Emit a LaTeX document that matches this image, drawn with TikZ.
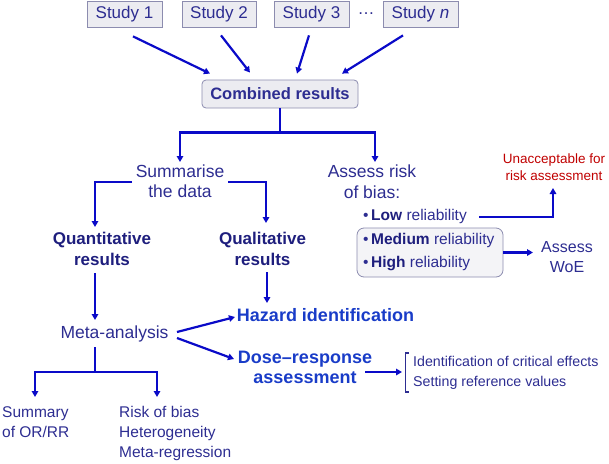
\documentclass[tikz,border=0pt]{standalone}
\usepackage{fontspec}
\setmainfont{Liberation Sans}
\usetikzlibrary{arrows.meta,calc}
\definecolor{navy}{RGB}{45,45,145}
\definecolor{bnavy}{RGB}{30,30,125}
\definecolor{bblue}{RGB}{25,60,200}
\definecolor{arrblue}{RGB}{10,10,200}
\definecolor{boxfill}{RGB}{236,236,241}
\definecolor{boxline}{RGB}{140,140,175}
\definecolor{darkred}{RGB}{192,0,0}
\newcommand{\fsz}[2]{\fontsize{#1}{#2}\selectfont}
\begin{document}
\begin{tikzpicture}[x=1pt,y=-1pt,
 conn/.style={draw=arrblue, line width=2.2pt},
 arr/.style={conn, -{Triangle[length=6pt,width=6.5pt]}},
 studybox/.style={draw=boxline, fill=boxfill, line width=0.8pt, minimum height=26pt, inner sep=0pt, text=navy, font=\fsz{17}{20}},
 txt/.style={inner sep=0pt, text=navy, align=center, font=\fsz{17.5}{20.5}},
 btxt/.style={inner sep=0pt, text=bnavy, align=center, font=\fsz{17}{21}\bfseries},
 htxt/.style={inner sep=0pt, text=bblue, align=center, font=\fsz{18}{20}\bfseries},
 smtxt/.style={inner sep=0pt, text=navy, align=left, anchor=west, font=\fsz{15.5}{20}},
]
\useasboundingbox (0,0) rectangle (609,463);

% studies
\node[studybox, minimum width=75pt] (s1) at (124.5,14) {Study 1};
\node[studybox, minimum width=74pt] (s2) at (219,14) {Study 2};
\node[studybox, minimum width=75pt] (s3) at (311.5,14) {Study 3};
\node[studybox, minimum width=75pt] (sn) at (420.5,14) {Study \textit{n}};
\node[inner sep=0pt, text=navy, font=\fsz{17}{20}] (dots) at (366,14) {…};

\node[studybox, rounded corners=4pt, minimum width=156pt, minimum height=28pt, font=\fsz{16.5}{20}\bfseries] (comb) at (280,94) {Combined results};

\draw[arr] ([shift={(8.5,9)}]s1.south) -- ([shift={(-70,-6)}]comb.north);
\draw[arr] ([shift={(2,8)}]s2.south) -- ([shift={(-30,-7)}]comb.north);
\draw[arr] ([shift={(-2.5,8)}]s3.south) -- ([shift={(17,-6)}]comb.north);
\draw[arr] ([shift={(-17.5,8)}]sn.south) -- ([shift={(62,-6)}]comb.north);

% second level
\node[txt] (sum) at (180,181) {Summarise\\the data};
\node[txt] (risk) at (372,181.5) {Assess risk\\of bias:};

\draw[conn] (comb.south) -- ++(0,24) coordinate (split);
\draw[arr] (split) -| ([shift={(0,-19)}]sum.center);
\draw[arr] (split) -| ([shift={(3,-19.5)}]risk.center);

% quantitative / qualitative
\node[btxt] (quant) at (102,248.5) {Quantitative\\results};
\node[btxt] (qual) at (262.5,248.5) {Qualitative\\results};
\draw[arr] ([shift={(-48,1)}]sum.center) -| ([shift={(-7,-21.5)}]quant.center);
\draw[arr] ([shift={(48,1)}]sum.center) -| ([shift={(3.5,-25.5)}]qual.center);

% meta-analysis
\node[txt] (meta) at (114.5,334) {Meta-analysis};
\draw[arr] ([shift={(-7,24.5)}]quant.center) -- ([shift={(-19.5,-14)}]meta.center);

\node[htxt] (haz) at (325.5,315) {Hazard identification};
\node[htxt] (dose) at (305,367) {Dose–response\\assessment};
\draw[arr] ([shift={(4.5,23.5)}]qual.center) -- ([shift={(-58.5,-12)}]haz.center);
\draw[arr] ([shift={(62.5,-2)}]meta.center) -- ([shift={(-90.5,2)}]haz.center);
\draw[arr] ([shift={(62.5,4)}]meta.center) -- ([shift={(-71,-8)}]dose.center);

% meta branches
\node[smtxt] (summ) at (2,422.5) {Summary\\of OR/RR};
\node[smtxt] (rob) at (119,433) {Risk of bias\\Heterogeneity\\Meta-regression};
\draw[conn] ([shift={(-19.5,13)}]meta.center) -- ++(0,25) coordinate (msplit);
\draw[arr] (msplit) -| ([shift={(33,-25.5)}]summ.west);
\draw[arr] (msplit) -| ([shift={(38,-36)}]rob.west);

% dose-response consequences
\node[inner sep=0pt, text=navy, align=left, anchor=west, font=\fsz{14.2}{20}] (crit) at (413,373) {Identification of critical effects\\Setting reference values};
\draw[arr] ([shift={(60,5)}]dose.center) -- ([shift={(-11,-1)}]crit.west);
\draw[navy, line width=1.2pt] ([shift={(-4,-20)}]crit.west) -- ++(-3.5,0) -- ++(0,39) -- ++(3.5,0);

% reliability
\node[draw=boxline, fill=boxfill!60, rounded corners=7pt, line width=0.8pt, minimum width=146pt, minimum height=49pt] (relbox) at (430,252.5) {};
\node[inner sep=0pt, anchor=west, text=navy, font=\fsz{15.5}{19}] (low) at (363,216) {•\,\textbf{\color{bnavy}Low} reliability};
\node[inner sep=0pt, anchor=west, text=navy, font=\fsz{15.5}{19}] (med) at (363,240.5) {•\,\textbf{\color{bnavy}Medium} reliability};
\node[inner sep=0pt, anchor=west, text=navy, font=\fsz{15.5}{19}] (high) at (363,264) {•\,\textbf{\color{bnavy}High} reliability};

\node[inner sep=0pt, text=darkred, align=center, font=\fsz{13.5}{17}] (unacc) at (554,167.5) {Unacceptable for\\risk assessment};
\node[txt, font=\fsz{16}{20}] (woe) at (567,257) {Assess\\WoE};

\draw[arr] ([shift={(116,1)}]low.west) -| ([shift={(-1,20.5)}]unacc.center);
\draw[arr] (relbox.east) -- ([shift={(-34,-4.5)}]woe.center);
\end{tikzpicture}
\end{document}
